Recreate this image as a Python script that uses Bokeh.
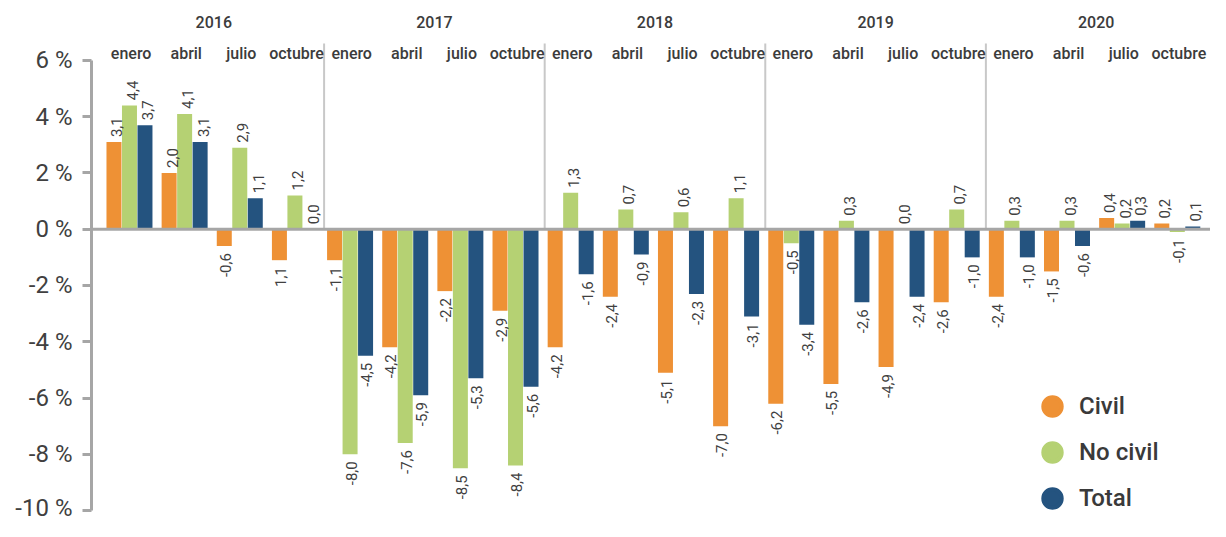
from bokeh.plotting import figure
from bokeh.models import (FixedTicker, Span, Legend, LegendItem,
                          Range1d, CustomJSTickFormatter)
from bokeh.core.properties import value
from bokeh.embed import file_html
from bokeh.resources import INLINE

# ---------------- data ----------------
years = ["2016", "2017", "2018", "2019", "2020"]
months = ["enero", "abril", "julio", "octubre"]
series_names = ["Civil", "No civil", "Total"]
civil = [3.1, 2.0, -0.6, -1.1, -1.1, -4.2, -2.2, -2.9, -4.2, -2.4, -5.1, -7.0,
         -6.2, -5.5, -4.9, -2.6, -2.4, -1.5, 0.4, 0.2]
no_civil = [4.4, 4.1, 2.9, 1.2, -8.0, -7.6, -8.5, -8.4, 1.3, 0.7, 0.6, 1.1,
            -0.5, 0.3, 0.0, 0.7, 0.3, 0.3, 0.2, -0.1]
total = [3.7, 3.1, 1.1, 0.0, -4.5, -5.9, -5.3, -5.6, -1.6, -0.9, -2.3, -3.1,
         -3.4, -2.6, -2.4, -1.0, -1.0, -0.6, 0.3, 0.1]
y_ticks = [-10, -8, -6, -4, -2, 0, 2, 4, 6]


def fmt(v):
    return f"{v:.1f}".replace(".", ",")


civil_labels = [fmt(v) for v in civil]
civil_labels[3] = "1,1"  # printed this way in the source chart
no_civil_labels = [fmt(v) for v in no_civil]
total_labels = [fmt(v) for v in total]

colors = ["#EE9135", "#B5D173", "#24537F"]
FONT = "Roboto"
MED = "Roboto Medium"
TXT = "#404040"

n = len(years) * len(months)
slots = list(range(n))

p = figure(width=1210, height=521, output_backend="svg", toolbar_location=None,
           x_range=Range1d(-0.2176, 20.073), y_range=Range1d(-10.391, 8.133),
           min_border_left=91, min_border_right=0, min_border_top=0,
           min_border_bottom=0, x_axis_location=None)
p.outline_line_color = None
p.xgrid.visible = False
p.ygrid.visible = False
p.background_fill_color = "white"
p.border_fill_color = "white"

ax = p.yaxis[0]
ax.ticker = FixedTicker(ticks=y_ticks)
ax.bounds = (min(y_ticks), max(y_ticks))
ax.formatter = CustomJSTickFormatter(code="return tick + ' %';")
ax.axis_line_color = "#A6A6A6"
ax.axis_line_width = 3
ax.major_tick_line_color = "#A6A6A6"
ax.major_tick_line_width = 3
ax.major_tick_out = 9
ax.major_tick_in = 0
ax.minor_tick_line_color = None
ax.major_label_standoff = 10
ax.major_label_text_font = FONT
ax.major_label_text_font_size = "24px"
ax.major_label_text_color = TXT

# year separators
sep_x = [len(months) * k for k in range(1, len(years))]
p.segment(x0=sep_x, y0=[0] * len(sep_x), x1=sep_x, y1=[6.604] * len(sep_x),
          line_color="#C8C8C8", line_width=2)

# bars
offsets = [-0.281, 0.0, 0.281]
center = 0.471
data = [civil, no_civil, total]
labels = [civil_labels, no_civil_labels, total_labels]
pos_x, pos_y, pos_t, neg_x, neg_y, neg_t = [], [], [], [], [], []
for vals, labs, off, col in zip(data, labels, offsets, colors):
    xs = [s + center + off for s in slots]
    p.vbar(x=xs, top=vals, bottom=0, width=0.272, fill_color=col, line_color=None)
    for x, v, t in zip(xs, vals, labs):
        if v >= 0:
            pos_x.append(x); pos_y.append(v); pos_t.append(t)
        else:
            neg_x.append(x); neg_y.append(v); neg_t.append(t)

p.add_layout(Span(location=0, dimension="width", line_color="#A6A6A6", line_width=3))

p.text(x=pos_x, y=pos_y, text=pos_t, angle=1.5708, text_align="left",
       text_baseline="middle", x_offset=3, y_offset=-5, text_font=value(FONT),
       text_font_size="15px", text_color=TXT)
p.text(x=neg_x, y=neg_y, text=neg_t, angle=1.5708, text_align="right",
       text_baseline="middle", x_offset=1, y_offset=7, text_font=value(FONT),
       text_font_size="15px", text_color=TXT)

# month and year labels
m_x = [s + 0.5 for s in slots]
m_t = [months[s % len(months)] for s in slots]
p.text(x=m_x, y=[6.249] * n, text=m_t, text_align="center", text_baseline="middle",
       text_font=value(MED), text_font_size="16px", text_color="#3C3C3C")
y_x = [len(months) * k + len(months) / 2 for k in range(len(years))]
p.text(x=y_x, y=[7.386] * len(years), text=years, text_align="center",
       text_baseline="middle", text_font=value(MED), text_font_size="16px",
       text_color="#3C3C3C")

# legend
nan = float("nan")
items = []
for name, col in zip(series_names, colors):
    r = p.scatter(x=[nan], y=[nan], marker="circle", size=22, fill_color=col,
                  line_color=col, line_width=4)
    items.append(LegendItem(label=name, renderers=[r]))
legend = Legend(items=items, location=(938, 0), orientation="vertical",
                glyph_width=46, glyph_height=46, spacing=0, label_standoff=4,
                padding=0, margin=0, border_line_color=None,
                background_fill_alpha=0, label_text_font=MED,
                label_text_font_size="24px",
                label_text_color="#3A3A3A")
p.add_layout(legend, "center")

open("out.html", "w").write(file_html(p, INLINE))
